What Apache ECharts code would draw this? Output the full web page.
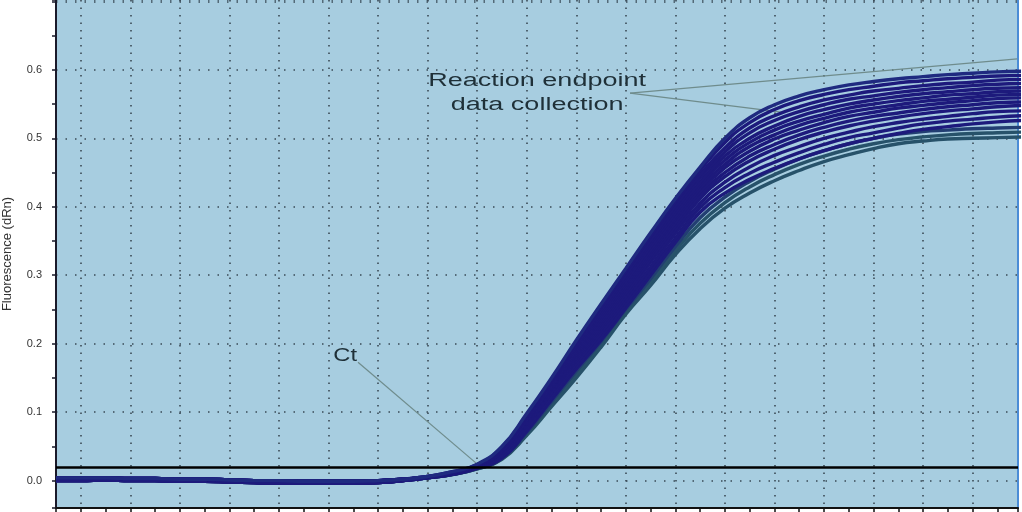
<!DOCTYPE html>
<html><head><meta charset="utf-8">
<script src="https://cdn.jsdelivr.net/npm/echarts@6/dist/echarts.min.js"></script>
<style>html,body{margin:0;padding:0;background:#fff}#c{width:1022px;height:512px}</style>
</head><body><div id="c"></div>
<script>
// x: PCR cycle, y: fluorescence (dRn)
const cycles = [1,2,3,4,5,6,7,8,9,10,11,12,13,14,15,16,17,18,19,20,21,22,23,24,25,26,27,28,29,30,31,32,33,34,35,36,37,38,39,40];
// baseline region, cycles 1-15
const baseUpper = [0.004,0.004,0.004,0.003,0.003,0.002,0.002,0.001,0.000,0.000,-0.001,-0.001,-0.001,0.000,0.002];
const baseLower = [0.000,0.000,0.001,0.000,0.000,-0.001,-0.001,-0.002,-0.003,-0.004,-0.004,-0.004,-0.004,-0.003,0.000];
// amplification region, cycles 16-40
const cT  = [0.006,0.013,0.024,0.050,0.098,0.150,0.205,0.258,0.310,0.362,0.412,0.458,0.500,0.530,0.549,0.562,0.571,0.578,0.583,0.587,0.590,0.593,0.595,0.597,0.598];
const cM1 = [0.006,0.013,0.023,0.049,0.096,0.147,0.202,0.254,0.305,0.357,0.407,0.453,0.494,0.523,0.542,0.555,0.564,0.571,0.576,0.581,0.584,0.587,0.589,0.591,0.592];
const cM2 = [0.006,0.012,0.023,0.047,0.094,0.145,0.198,0.249,0.300,0.351,0.401,0.447,0.486,0.515,0.533,0.546,0.556,0.563,0.569,0.573,0.577,0.580,0.582,0.585,0.586];
const cM3 = [0.005,0.012,0.022,0.046,0.092,0.142,0.195,0.245,0.296,0.347,0.396,0.442,0.480,0.508,0.526,0.539,0.549,0.557,0.562,0.567,0.571,0.574,0.577,0.579,0.580];
const cM4 = [0.005,0.012,0.022,0.044,0.089,0.139,0.191,0.241,0.291,0.342,0.391,0.436,0.474,0.500,0.518,0.532,0.542,0.550,0.556,0.561,0.565,0.568,0.571,0.573,0.574];
const cM5 = [0.005,0.011,0.022,0.043,0.088,0.137,0.188,0.237,0.287,0.337,0.386,0.432,0.468,0.494,0.512,0.525,0.535,0.544,0.550,0.555,0.559,0.563,0.565,0.568,0.569];
const cM6 = [0.005,0.011,0.021,0.042,0.086,0.135,0.185,0.233,0.283,0.333,0.382,0.427,0.462,0.488,0.505,0.519,0.529,0.538,0.544,0.549,0.554,0.557,0.560,0.563,0.564];
const cM7 = [0.005,0.011,0.021,0.041,0.084,0.133,0.182,0.229,0.279,0.329,0.377,0.422,0.457,0.481,0.499,0.512,0.523,0.532,0.538,0.544,0.548,0.552,0.555,0.558,0.559];
const cM8 = [0.005,0.010,0.020,0.039,0.082,0.130,0.179,0.225,0.274,0.324,0.372,0.417,0.450,0.474,0.491,0.505,0.516,0.525,0.532,0.537,0.542,0.546,0.549,0.552,0.553];
const cM9 = [0.005,0.010,0.020,0.038,0.080,0.128,0.176,0.221,0.269,0.319,0.367,0.412,0.444,0.467,0.484,0.498,0.509,0.518,0.525,0.531,0.536,0.540,0.543,0.546,0.548];
const cM10= [0.004,0.010,0.019,0.036,0.077,0.124,0.171,0.216,0.264,0.312,0.361,0.405,0.436,0.458,0.475,0.488,0.500,0.509,0.517,0.523,0.528,0.532,0.536,0.539,0.540];
const cM11= [0.004,0.009,0.019,0.035,0.075,0.121,0.167,0.210,0.258,0.306,0.354,0.399,0.428,0.449,0.465,0.479,0.491,0.501,0.508,0.515,0.521,0.525,0.528,0.531,0.533];
const cB  = [0.004,0.009,0.018,0.033,0.072,0.118,0.163,0.205,0.252,0.300,0.348,0.392,0.420,0.440,0.456,0.470,0.482,0.492,0.500,0.507,0.513,0.517,0.521,0.524,0.526];
const cL1 = [0.004,0.009,0.018,0.033,0.070,0.115,0.160,0.203,0.250,0.295,0.342,0.384,0.414,0.437,0.455,0.470,0.482,0.492,0.500,0.506,0.510,0.512,0.514,0.515,0.516];
const cL2 = [0.004,0.009,0.017,0.032,0.068,0.112,0.156,0.200,0.248,0.290,0.336,0.376,0.406,0.429,0.447,0.462,0.474,0.484,0.492,0.498,0.502,0.505,0.507,0.508,0.509];
const cL3 = [0.004,0.009,0.017,0.031,0.066,0.108,0.150,0.195,0.243,0.285,0.330,0.368,0.398,0.420,0.438,0.453,0.466,0.476,0.485,0.492,0.496,0.499,0.500,0.501,0.502];

const threshold = 0.022;
// annotations [cycle, dRn]
const ctLine = [[13.19, 0.173], [18.04, 0.023]];
const endLine1 = [[24.17, 0.566], [39.8, 0.616]];
const endLine2 = [[24.17, 0.566], [30.35, 0.538]];
const labelReaction = {text: 'Reaction endpoint', at: [20.42, 0.584]};
const labelData = {text: 'data collection', at: [20.42, 0.548]};
const labelCt = {text: 'Ct', at: [12.67, 0.183]};

const curves = [
  {v: cL3, base: baseLower, color: '#27526a'},
  {v: cL2, base: baseLower, color: '#27526a'},
  {v: cL1, base: baseLower, color: '#223e72'},
  {v: cB, base: baseLower, color: '#1d1a7c'},
  {v: cM11, base: baseLower, color: '#1d1a7c'},
  {v: cM10, base: baseLower, color: '#1d1a7c'},
  {v: cM9, base: baseLower, color: '#1d1a7c'},
  {v: cM8, base: baseLower, color: '#1d1a7c'},
  {v: cM7, base: baseUpper, color: '#1d1a7c'},
  {v: cM6, base: baseUpper, color: '#1d1a7c'},
  {v: cM5, base: baseUpper, color: '#1d1a7c'},
  {v: cM4, base: baseUpper, color: '#1d1a7c'},
  {v: cM3, base: baseUpper, color: '#1d1a7c'},
  {v: cM2, base: baseUpper, color: '#1d1a7c'},
  {v: cM1, base: baseUpper, color: '#1d1a7c'},
  {v: cT, base: baseUpper, color: '#1f2a80'}
];

const series = curves.map(c => {
  const vals = c.base.concat(c.v);
  return {
    type: 'line', xAxisIndex: 0, yAxisIndex: 0, silent: true,
    data: cycles.map((x, i) => [x, vals[i]]),
    symbol: 'none', smooth: 0.5, clip: true,
    lineStyle: {color: c.color, width: 3.4}
  };
});
series.push({
  type: 'line', xAxisIndex: 0, yAxisIndex: 0, silent: true, data: [],
  markLine: {symbol: 'none', silent: true, label: {show: false},
    lineStyle: {color: '#000', width: 2.5, type: 'solid'},
    data: [{yAxis: threshold}]}
});
[ctLine, endLine1, endLine2].forEach(l => series.push({
  type: 'line', xAxisIndex: 0, yAxisIndex: 0, silent: true, data: l,
  symbol: 'none', lineStyle: {color: '#6f8c8c', width: 1.2}, z: 1
}));

const chart = echarts.init(document.getElementById('c'), null, {renderer: 'canvas'});
const gridDot = {color: '#3a4a55', width: 1.6};
chart.setOption({
  animation: false,
  backgroundColor: '#ffffff',
  grid: {left: 56, right: 4, top: 0, bottom: 4, show: true, backgroundColor: '#a7cde0', borderWidth: 0,
         containLabel: false, outerBoundsMode: 'none'},
  xAxis: [
    {type: 'value', min: 1, max: 39.83, minInterval: 1, maxInterval: 1, position: 'bottom',
     axisLine: {show: true, onZero: false, lineStyle: {color: '#111', width: 2}},
     axisTick: {show: true, length: 5, lineStyle: {color: '#111', width: 1.5}},
     axisLabel: {show: false}, splitLine: {show: false}},
    {type: 'value', min: 1, max: 39.83, minInterval: 2, maxInterval: 2, position: 'top',
     axisLine: {show: false}, axisTick: {show: false}, axisLabel: {show: false},
     splitLine: {show: true, lineStyle: Object.assign({type: [1.5, 6]}, gridDot)}}
  ],
  yAxis: [
    {type: 'value', min: -0.04, max: 0.702, minInterval: 0.1, maxInterval: 0.1,
     name: 'Fluorescence (dRn)', nameLocation: 'middle', nameGap: 42,
     nameTextStyle: {fontSize: 13, color: '#333', fontFamily: 'Liberation Sans'},
     axisLine: {show: true, onZero: false, lineStyle: {color: '#1a1a2a', width: 2}},
     axisTick: {show: true, length: 4, lineStyle: {color: '#1a1a2a', width: 1.5}},
     minorTick: {show: true, splitNumber: 2, length: 4, lineStyle: {color: '#1a1a2a', width: 1.5}},
     axisLabel: {fontSize: 11, color: '#333', margin: 14, fontFamily: 'Liberation Sans',
       formatter: v => (v < -0.001 || v > 0.65) ? '' : v.toFixed(1)},
     splitLine: {show: true, lineStyle: Object.assign({type: [1.5, 8]}, gridDot)}},
    {type: 'value', min: -0.04, max: 0.702, position: 'right',
     axisLine: {show: true, onZero: false, lineStyle: {color: '#4b8cd6', width: 2}},
     axisTick: {show: false}, axisLabel: {show: false}, splitLine: {show: false}}
  ],
  series: series
});

function textEl(lbl, size, sx) {
  const p = chart.convertToPixel({xAxisIndex: 0, yAxisIndex: 0}, lbl.at);
  return {type: 'text', x: p[0], y: p[1], scaleX: sx, z: 100, silent: true,
    style: {text: lbl.text, fontSize: size, fontFamily: 'Liberation Sans', fill: '#1f3038',
      align: 'center', verticalAlign: 'middle', textAlign: 'center', textVerticalAlign: 'middle'}};
}
chart.setOption({graphic: [
  textEl(labelReaction, 18, 1.5),
  textEl(labelData, 18, 1.5),
  textEl(labelCt, 19, 1.25)
]});
</script></body></html>
